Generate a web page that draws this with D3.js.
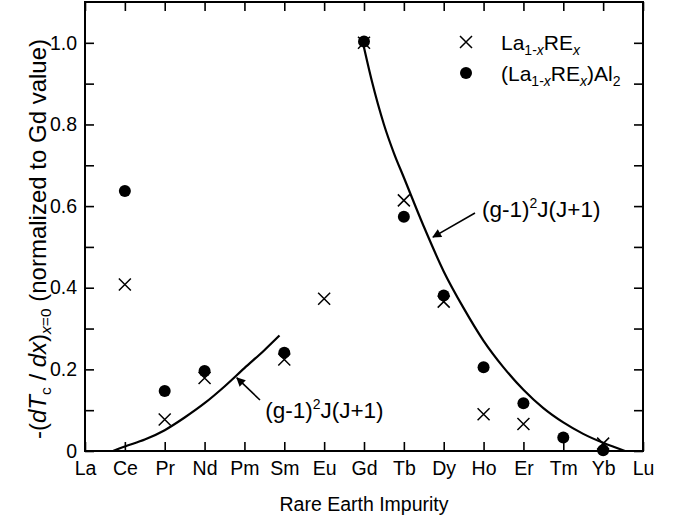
<!DOCTYPE html>
<html><head><meta charset="utf-8">
<script src="https://cdn.jsdelivr.net/npm/d3@7"></script>
<style>
body{margin:0;background:#fff}
text{font-family:"Liberation Sans",Arial,Helvetica,sans-serif;fill:#000}
</style></head>
<body><svg id="c" width="676" height="523"></svg>
<script>
// ---------- data ----------
const elements = ["La","Ce","Pr","Nd","Pm","Sm","Eu","Gd","Tb","Dy","Ho","Er","Tm","Yb","Lu"];
const crossEl  = ["Ce","Pr","Nd","Sm","Eu","Gd","Tb","Dy","Ho","Er","Yb"];
const crossVal = [0.408,0.077,0.179,0.224,0.373,1.0,0.614,0.366,0.090,0.066,0.018];
const dotEl    = ["Ce","Pr","Nd","Sm","Gd","Tb","Dy","Ho","Er","Tm","Yb"];
const dotVal   = [0.637,0.147,0.196,0.241,1.003,0.574,0.381,0.205,0.117,0.033,0.002];
// de Gennes curves, x in element-index units
const leftCurveX  = [0.7, 1.0, 1.5, 2.0, 2.5, 3.0, 3.5, 4.0, 4.5, 4.88];
const leftCurveY  = [0.0, 0.011, 0.028, 0.051, 0.082, 0.117, 0.158, 0.203, 0.247, 0.283];
const rightCurveX = [6.95, 7.2, 7.5, 7.75, 8.0, 8.5, 9.0, 9.5, 10.0, 10.5, 11.0, 11.5, 12.0, 12.5, 13.0, 13.55];
const rightCurveY = [1.01, 0.905, 0.80, 0.73, 0.67, 0.55, 0.44, 0.35, 0.27, 0.205, 0.15, 0.105, 0.07, 0.042, 0.02, 0.0];
const yMajor = [0, 0.2, 0.4, 0.6, 0.8, 1.0];
const yMinor = [0.1, 0.3, 0.5, 0.7, 0.9];

// ---------- layout ----------
const svg = d3.select("#c");
const L = 85, R = 643, T = 2, B = 451;
const x = d3.scaleLinear().domain([0, 14]).range([L, R]);
const y = d3.scaleLinear().domain([0, 1.1]).range([B, T]);
const idx = e => elements.indexOf(e);
const FS = 19.5;

// axes
const xTicks = d3.range(elements.length);
const gB = svg.append("g").attr("transform", `translate(0,${B})`)
  .call(d3.axisBottom(x).tickValues(xTicks).tickFormat(i => elements[i]).tickSizeInner(-9).tickSizeOuter(0).tickPadding(10));
const gT = svg.append("g").attr("transform", `translate(0,${T})`)
  .call(d3.axisTop(x).tickValues(xTicks).tickFormat("").tickSizeInner(-9).tickSizeOuter(0));
const gL = svg.append("g").attr("transform", `translate(${L},0)`)
  .call(d3.axisLeft(y).tickValues(yMajor.concat(yMinor)).tickFormat(d => yMajor.includes(d) ? (d === 0 ? "0" : d3.format(".1f")(d)) : "").tickSizeInner(-9).tickSizeOuter(0).tickPadding(8));
const gR = svg.append("g").attr("transform", `translate(${R},0)`)
  .call(d3.axisRight(y).tickValues(yMajor.concat(yMinor)).tickFormat("").tickSizeInner(-9).tickSizeOuter(0));
[gB, gT, gL, gR].forEach(g => {
  g.select(".domain").remove();
  g.selectAll("line").attr("stroke", "#000").attr("stroke-width", 1.6);
  g.selectAll("text").attr("font-size", FS).attr("font-family", null).attr("fill", "#000");
});
// frame
svg.append("rect").attr("x", L).attr("y", T).attr("width", R - L).attr("height", B - T)
  .attr("fill", "none").attr("stroke", "#000").attr("stroke-width", 2);

// curves
const line = d3.line().x(d => x(d[0])).y(d => y(d[1])).curve(d3.curveMonotoneX);
svg.append("path").datum(leftCurveX.map((v, i) => [v, leftCurveY[i]]))
  .attr("d", line).attr("fill", "none").attr("stroke", "#000").attr("stroke-width", 2.2);
svg.append("path").datum(rightCurveX.map((v, i) => [v, rightCurveY[i]]))
  .attr("d", line).attr("fill", "none").attr("stroke", "#000").attr("stroke-width", 2.2);

// dots
svg.append("g").selectAll("circle").data(dotEl.map((e, i) => [idx(e), dotVal[i]])).join("circle")
  .attr("cx", d => x(d[0])).attr("cy", d => y(d[1])).attr("r", 6).attr("fill", "#000");
// crosses
const cs = 6;
svg.append("g").selectAll("path").data(crossEl.map((e, i) => [idx(e), crossVal[i]])).join("path")
  .attr("d", d => { const cx = x(d[0]), cy = y(d[1]);
    return `M${cx-cs},${cy-cs}L${cx+cs},${cy+cs}M${cx-cs},${cy+cs}L${cx+cs},${cy-cs}`; })
  .attr("stroke", "#000").attr("stroke-width", 1.5).attr("fill", "none");

// arrows
const defs = svg.append("defs");
defs.append("marker").attr("id", "ah").attr("viewBox", "0 0 10 10").attr("refX", 9).attr("refY", 5)
  .attr("markerWidth", 11).attr("markerHeight", 9).attr("markerUnits", "userSpaceOnUse").attr("orient", "auto")
  .append("path").attr("d", "M0,0L10,5L0,10Z").attr("fill", "#000");
function arrow(x1, y1, x2, y2) {
  svg.append("line").attr("x1", x(x1)).attr("y1", y(y1)).attr("x2", x(x2)).attr("y2", y(y2))
    .attr("stroke", "#000").attr("stroke-width", 1.6).attr("marker-end", "url(#ah)");
}
arrow(4.39, 0.125, 3.81, 0.179);
arrow(9.785, 0.583, 8.73, 0.524);

function gLabel(xv, yv) {
  const t = svg.append("text").attr("x", x(xv)).attr("y", y(yv)).attr("font-size", 22.5);
  t.append("tspan").text("(g-1)");
  t.append("tspan").attr("font-size", 14).attr("dy", -9).text("2");
  t.append("tspan").attr("dy", 9).text("J(J+1)");
}
gLabel(4.52, 0.081);
gLabel(9.96, 0.573);

// legend
const lx = 466;
svg.append("path").attr("d", `M${lx-6},${42-6}L${lx+6},${42+6}M${lx-6},${42+6}L${lx+6},${42-6}`)
  .attr("stroke", "#000").attr("stroke-width", 1.5);
svg.append("circle").attr("cx", lx).attr("cy", 73).attr("r", 6).attr("fill", "#000");
{
  const t = svg.append("text").attr("x", 501).attr("y", 50).attr("font-size", 21);
  t.append("tspan").text("La");
  t.append("tspan").attr("font-size", 14).attr("dy", 5).text("1-");
  t.append("tspan").attr("font-size", 14).attr("font-style", "italic").text("x");
  t.append("tspan").attr("dy", -5).text("RE");
  t.append("tspan").attr("font-size", 14).attr("dy", 5).attr("font-style", "italic").text("x");
}
{
  const t = svg.append("text").attr("x", 501).attr("y", 81).attr("font-size", 21);
  t.append("tspan").text("(La");
  t.append("tspan").attr("font-size", 14).attr("dy", 5).text("1-");
  t.append("tspan").attr("font-size", 14).attr("font-style", "italic").text("x");
  t.append("tspan").attr("dy", -5).text("RE");
  t.append("tspan").attr("font-size", 14).attr("dy", 5).attr("font-style", "italic").text("x");
  t.append("tspan").attr("dy", -5).text(")Al");
  t.append("tspan").attr("font-size", 14).attr("dy", 5).text("2");
}

// axis titles
svg.append("text").attr("x", (L + R) / 2).attr("y", 511).attr("text-anchor", "middle").attr("font-size", 19.5)
  .text("Rare Earth Impurity");
{
  const t = svg.append("text").attr("transform", `translate(46,239) rotate(-90)`)
    .attr("text-anchor", "middle").attr("font-size", 24);
  t.append("tspan").text("-(");
  t.append("tspan").attr("font-style", "italic").text("dT");
  t.append("tspan").attr("font-size", 15.5).attr("dy", 5).text("c");
  t.append("tspan").attr("dy", -5).text(" / ");
  t.append("tspan").attr("font-style", "italic").text("dx");
  t.append("tspan").text(")");
  t.append("tspan").attr("font-size", 15.5).attr("dy", 5).attr("font-style", "italic").text("x");
  t.append("tspan").attr("font-size", 15.5).text("=0");
  t.append("tspan").attr("dy", -5).text(" (normalized to Gd value)");
}
</script></body></html>
